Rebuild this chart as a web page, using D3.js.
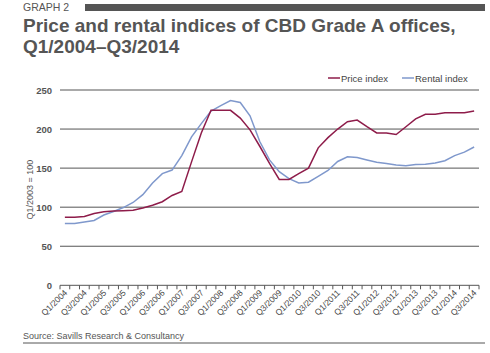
<!DOCTYPE html>
<html>
<head>
<meta charset="utf-8">
<script src="https://cdn.jsdelivr.net/npm/d3@7"></script>
<style>
  body { margin: 0; background: #fff; }
  text { font-family: "Liberation Sans", Arial, sans-serif; }
</style>
</head>
<body>
<svg width="490" height="353"></svg>
<script>
// quarters Q1/2004 .. Q3/2014
const quarters = [];
for (let yr = 2004; yr <= 2014; yr++) {
  for (let q = 1; q <= 4; q++) {
    if (yr === 2014 && q > 3) break;
    quarters.push(`Q${q}/${yr}`);
  }
}

const priceIndex = [87, 87, 88, 92, 94, 95, 95.5, 96, 99, 102.5, 107, 115, 120, 158, 195, 224,
  224, 224, 214, 199, 178, 156, 135.5, 135.5, 143, 150, 176, 189, 200, 209.5, 211.5, 203,
  195, 195, 193, 203, 213, 219, 219, 221, 221, 221, 223];
const rentalIndex = [79, 79, 81, 83, 90, 94.5, 99.5, 106, 116, 131, 143, 147.5, 166, 190, 207, 223,
  230, 236.5, 234, 217, 184, 160.5, 145.5, 136.5, 131, 132, 139.5, 147, 158.5, 164.5, 163.5, 160.5,
  157.5, 156, 154, 153, 154.5, 155, 156.5, 159.5, 166, 170.5, 177];

const yTicks = [0, 50, 100, 150, 200, 250];

const svg = d3.select("svg");
const mLeft = 60, mRight = 479, mTop = 90, mBottom = 285.3;

// header
svg.append("text").attr("x", 23).attr("y", 11)
  .style("font-size", "10.5px").attr("fill", "#555").text("GRAPH 2");
svg.append("rect").attr("x", 85).attr("y", 4).attr("width", 400).attr("height", 7).attr("fill", "#555");
svg.append("text").attr("x", 23).attr("y", 31.5)
  .style("font-size", "19px").style("font-weight", "bold").attr("fill", "#555")
  .text("Price and rental indices of CBD Grade A offices,");
svg.append("text").attr("x", 23).attr("y", 52.5)
  .style("font-size", "19px").style("font-weight", "bold").attr("fill", "#555")
  .text("Q1/2004\u2013Q3/2014");

const x = d3.scaleBand().domain(quarters).range([mLeft, mRight]);
const y = d3.scaleLinear().domain([0, 250]).range([mBottom, mTop]);

// grid + y labels
const g = svg.append("g");
g.selectAll(".grid").data(yTicks.filter(d => d > 0)).join("line")
  .attr("x1", mLeft).attr("x2", mRight)
  .attr("y1", d => y(d)).attr("y2", d => y(d))
  .attr("stroke", "#555").attr("stroke-width", 1);
g.selectAll(".ylab").data(yTicks).join("text")
  .attr("x", 52).attr("y", d => y(d) + 3.5)
  .attr("text-anchor", "end").style("font-size", "9.5px").style("font-weight", "bold")
  .attr("fill", "#555").text(d => d);

svg.append("text")
  .attr("transform", `translate(33,${(mTop + mBottom) / 2 + 2}) rotate(-90)`)
  .attr("text-anchor", "middle").style("font-size", "9px").attr("fill", "#555")
  .text("Q1/2003 = 100");

// x axis
const xa = svg.append("g");
xa.append("line").attr("x1", mLeft).attr("x2", mRight).attr("y1", mBottom).attr("y2", mBottom)
  .attr("stroke", "#555").attr("stroke-width", 1);
const edges = quarters.map(q => x(q)).concat([mRight]);
xa.selectAll(".tick").data(edges).join("line")
  .attr("x1", d => d).attr("x2", d => d).attr("y1", mBottom).attr("y2", mBottom + 4)
  .attr("stroke", "#555");
xa.selectAll(".xlab").data(quarters.filter((q, i) => i % 2 === 0)).join("text")
  .attr("transform", d => `translate(${x(d) + x.bandwidth() / 2 + 3},${mBottom + 8}) rotate(-45)`)
  .attr("text-anchor", "end").style("font-size", "8.5px").attr("fill", "#444")
  .text(d => d);

// lines
const line = d3.line().x((d, i) => x(quarters[i]) + x.bandwidth() / 2).y(d => y(d));
svg.append("path").datum(rentalIndex).attr("d", line)
  .attr("fill", "none").attr("stroke", "#7f98cc").attr("stroke-width", 1.5);
svg.append("path").datum(priceIndex).attr("d", line)
  .attr("fill", "none").attr("stroke", "#8e1c4a").attr("stroke-width", 1.5);

// legend
const legend = [["Price index", "#8e1c4a", 328], ["Rental index", "#7f98cc", 402]];
legend.forEach(([name, col, lx]) => {
  svg.append("line").attr("x1", lx).attr("x2", lx + 12).attr("y1", 78).attr("y2", 78)
    .attr("stroke", col).attr("stroke-width", 1.5);
  svg.append("text").attr("x", lx + 13).attr("y", 81.5)
    .style("font-size", "9.5px").attr("fill", "#444").text(name);
});

// source
svg.append("text").attr("x", 23).attr("y", 339)
  .style("font-size", "9px").attr("fill", "#555").text("Source: Savills Research & Consultancy");
svg.append("line").attr("x1", 23).attr("x2", 485).attr("y1", 343).attr("y2", 343)
  .attr("stroke", "#555").attr("stroke-width", 1);
</script>
</body>
</html>
